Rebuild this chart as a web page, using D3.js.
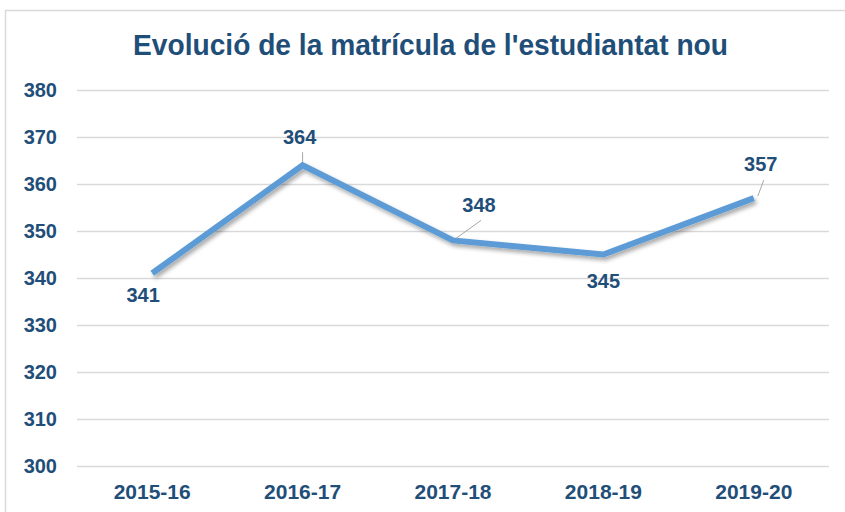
<!DOCTYPE html>
<html>
<head>
<meta charset="utf-8">
<script src="https://cdn.jsdelivr.net/npm/d3@7"></script>
<style>
  body { margin: 0; background: #fff; }
  svg { display: block; }
</style>
</head>
<body>
<div id="chart"></div>
<script>
const width = 845;
const height = 512;

// chart data
const courses = ["2015-16", "2016-17", "2017-18", "2018-19", "2019-20"];
const students = [341, 364, 348, 345, 357];
const yTicks = [300, 310, 320, 330, 340, 350, 360, 370, 380];

const titleText = "Evolució de la matrícula de l'estudiantat nou";
const navy = "#1F4E79";
const font = "'Liberation Sans', Arial, sans-serif";

const svg = d3.select("#chart")
    .append("svg")
    .attr("width", width)
    .attr("height", height);

// drop shadow for the line
const defs = svg.append("defs");
const shadow = defs.append("filter")
    .attr("id", "shadow")
    .attr("x", "-10%").attr("y", "-20%")
    .attr("width", "120%").attr("height", "160%");
shadow.append("feDropShadow")
    .attr("dx", 2).attr("dy", 3)
    .attr("stdDeviation", 2)
    .attr("flood-color", "#000")
    .attr("flood-opacity", 0.35);

// chart area border
svg.append("rect")
    .attr("x", 5.5).attr("y", 10.5)
    .attr("width", 850).attr("height", 520)
    .attr("fill", "#fff")
    .attr("stroke", "#D9D9D9")
    .attr("stroke-width", 1.5);

svg.append("text")
    .attr("x", 430.5)
    .attr("y", 55)
    .attr("text-anchor", "middle")
    .attr("font-family", font)
    .attr("font-weight", "bold")
    .attr("font-size", 29)
    .attr("textLength", 595)
    .attr("lengthAdjust", "spacingAndGlyphs")
    .attr("fill", navy)
    .text(titleText);

const x = d3.scaleBand()
    .domain(courses)
    .range([77, 829]);

const y = d3.scaleLinear()
    .domain([300, 380])
    .range([466, 90]);

// gridlines
svg.append("g")
    .selectAll("line")
    .data(yTicks)
    .enter()
    .append("line")
    .attr("x1", 77).attr("x2", 829)
    .attr("y1", d => Math.round(y(d)) + 0.5)
    .attr("y2", d => Math.round(y(d)) + 0.5)
    .attr("stroke", "#D9D9D9")
    .attr("stroke-width", 1.5);

// y labels
svg.append("g")
    .selectAll("text")
    .data(yTicks)
    .enter()
    .append("text")
    .attr("x", 57)
    .attr("y", d => y(d))
    .attr("dy", "0.35em")
    .attr("text-anchor", "end")
    .attr("font-family", font)
    .attr("font-weight", "bold")
    .attr("font-size", 20)
    .attr("fill", navy)
    .text(d => d);

// x labels
svg.append("g")
    .selectAll("text")
    .data(courses)
    .enter()
    .append("text")
    .attr("x", d => x(d) + x.bandwidth() / 2)
    .attr("y", 492)
    .attr("dy", "0.35em")
    .attr("text-anchor", "middle")
    .attr("font-family", font)
    .attr("font-weight", "bold")
    .attr("font-size", 21)
    .attr("fill", navy)
    .text(d => d);

const points = courses.map((c, i) => ({ course: c, value: students[i] }));
const px = d => x(d.course) + x.bandwidth() / 2;

const line = d3.line()
    .x(px)
    .y(d => y(d.value));

svg.append("path")
    .datum(points)
    .attr("d", line)
    .attr("fill", "none")
    .attr("stroke", "#5B9BD5")
    .attr("stroke-width", 6)
    .attr("stroke-linejoin", "miter")
    .attr("filter", "url(#shadow)");

// data labels: offset from the point, leader = [x1,y1,x2,y2] relative to the point
const labelOffsets = [
    { dx: -9, dy: 22, leader: null },
    { dx: -3, dy: -28, leader: [0, -3, 0, -13] },
    { dx: 26, dy: -35, leader: [3, -2, 28, -20] },
    { dx: 0, dy: 26, leader: null },
    { dx: 7, dy: -34, leader: [4, -2, 10, -18] }
];

const labels = svg.append("g");
points.forEach((d, i) => {
    const o = labelOffsets[i];
    const cx = px(d);
    const cy = y(d.value);
    if (o.leader) {
        labels.append("line")
            .attr("x1", cx + o.leader[0]).attr("y1", cy + o.leader[1])
            .attr("x2", cx + o.leader[2]).attr("y2", cy + o.leader[3])
            .attr("stroke", "#A6A6A6")
            .attr("stroke-width", 1);
    }
    labels.append("text")
        .attr("x", cx + o.dx)
        .attr("y", cy + o.dy)
        .attr("dy", "0.35em")
        .attr("text-anchor", "middle")
        .attr("font-family", font)
        .attr("font-weight", "bold")
        .attr("font-size", 20)
        .attr("fill", navy)
        .text(d.value);
});
</script>
</body>
</html>
